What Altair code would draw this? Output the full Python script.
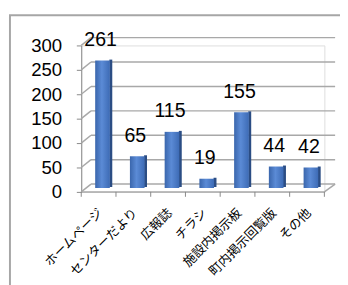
import altair as alt
import pandas as pd

categories = ["ホームページ", "センターだより", "広報誌", "チラシ", "施設内掲示板", "町内掲示回覧版", "その他"]
values = [261, 65, 115, 19, 155, 44, 42]
y_ticks = [0, 50, 100, 150, 200, 250, 300]

df = pd.DataFrame({"cat": categories, "val": values})
grid_df = pd.DataFrame({"val": y_ticks})
frame_df = pd.DataFrame({"a": [0]})

W, H = 249, 150
DX, DY = 10, -8
GRID = "#a8a8a8"
NUMFONT = "Liberation Sans"

yscale = alt.Scale(domain=[0, 300], nice=False)
xenc = alt.X(
    "cat:N", sort=categories,
    scale=alt.Scale(paddingInner=0, paddingOuter=0),
    axis=alt.Axis(title=None, labelAngle=-45, labelAlign="right", labelBaseline="middle",
                  labelFont="Noto Sans CJK JP", labelFontSize=13, labelColor="#000000",
                  labelPadding=19, labelOffset=2, ticks=False, domain=False),
)
yenc = alt.Y(
    "val:Q", scale=yscale,
    axis=alt.Axis(title=None, values=y_ticks, grid=False, domainColor="#888888",
                  tickColor="#888888", tickSize=5, labelFont=NUMFONT, labelFontSize=19,
                  labelColor="#000000", labelPadding=15),
)

frame = alt.Chart(frame_df).mark_rect(fill="transparent", stroke="#a6a6a6", strokeWidth=2).encode(
    x=alt.value(-73), x2=alt.value(W + 60), y=alt.value(-31), y2=alt.value(H + 150)
)

grid_h = alt.Chart(grid_df).mark_rule(color=GRID, strokeWidth=1.5, yOffset=DY).encode(
    y=yenc, x=alt.value(DX), x2=alt.value(W + DX + 1)
)
grid_s = alt.Chart(grid_df).mark_rule(color=GRID, strokeWidth=1.5, y2Offset=DY).encode(
    y=yenc, y2="val:Q", x=alt.value(0), x2=alt.value(DX)
)
floor_front = alt.Chart(frame_df).mark_rule(color=GRID, strokeWidth=1.5).encode(
    x=alt.value(0), x2=alt.value(W), y=alt.value(H)
)
floor_right = alt.Chart(frame_df).mark_rule(color=GRID, strokeWidth=1.5).encode(
    x=alt.value(W), x2=alt.value(W + DX + 1), y=alt.value(H), y2=alt.value(H + DY)
)
xticks = alt.Chart(df).mark_rule(color="#888888", xOffset=-W / 14).encode(
    x=xenc, y=alt.value(H), y2=alt.value(H + 5)
)
xtick_end = alt.Chart(frame_df).mark_rule(color="#888888").encode(
    x=alt.value(W), y=alt.value(H), y2=alt.value(H + 5)
)

grad = alt.Gradient(
    gradient="linear",
    stops=[alt.GradientStop(color="#3A66AC", offset=0),
           alt.GradientStop(color="#5B8BD6", offset=0.45),
           alt.GradientStop(color="#3D6BB5", offset=1)],
    x1=0, x2=1, y1=0, y2=0,
)
side = alt.Chart(df).mark_bar(size=3, xOffset=12.5, yOffset=-5, y2Offset=-2, color="#2B4D84").encode(
    x=xenc, y=yenc
)
bars = alt.Chart(df).mark_bar(size=15, xOffset=4, yOffset=-4, y2Offset=-1, color=grad).encode(
    x=xenc, y=yenc
)
labels = alt.Chart(df).mark_text(font=NUMFONT, fontSize=20, color="black", baseline="middle",
                                  dx=2, dy=-25).encode(
    x=xenc, y=yenc, text="val:Q"
)

chart = alt.layer(
    frame, grid_h, grid_s, floor_front, floor_right, xticks, xtick_end, side, bars, labels
).properties(
    width=W, height=H,
    autosize=alt.AutoSizeParams(type="none"),
    padding={"left": 75, "top": 35, "right": 16, "bottom": 92},
).configure_view(stroke=None).configure(background="white")

chart.save("out.html", embed_options={"renderer": "svg", "actions": False})
